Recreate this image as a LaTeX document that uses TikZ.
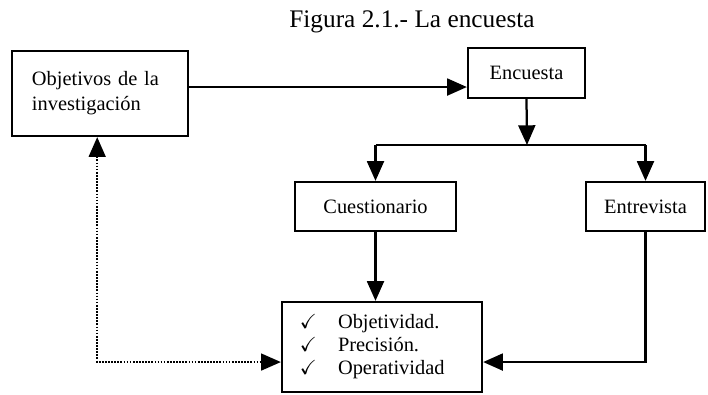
\documentclass[tikz,border=0pt]{standalone}
\usepackage{amssymb}
\usepackage{fontspec}
\setmainfont{Liberation Serif}
\usetikzlibrary{arrows.meta}
\usetikzlibrary{positioning}

\begin{document}
\begin{tikzpicture}[x=0.025cm, y=-0.025cm,
        caja/.style={draw, black, line width=1.6pt, font=\fontsize{14.5}{17.8}\selectfont},
        flecha/.style={-{Triangle[length=14pt,width=12pt]}, line width=1.6pt},
        punteada/.style={{Triangle[length=14pt,width=12pt]}-{Triangle[length=14pt,width=12pt]}, line width=1.2pt, densely dotted}]
        \useasboundingbox (0,0) rectangle (708,394);
        \node (titulo) at (412,22) {\fontsize{18}{20}\selectfont Figura 2.1.- La encuesta};
        \node[caja, minimum height=2.125cm, text width=3.4cm, inner xsep=0.5cm, align=left] (obj) at (100,93.5) {Objetivos de la\\investigación};
        \node[caja, minimum width=2.925cm, minimum height=1.25cm] (enc) at (526.5,73) {Encuesta};
        \node[caja, minimum width=4.025cm, minimum height=1.225cm] (cue) at (375.5,206.5) {Cuestionario};
        \node[caja, minimum width=2.975cm, minimum height=1.225cm] (ent) at (645.5,206.5) {Entrevista};
        \node[caja, minimum height=2.25cm, text width=4.1cm, inner xsep=0.45cm, align=left,
              font=\fontsize{14.5}{16.5}\selectfont] (res) at (382,347)
              {\begin{tabular}{@{}l@{\hspace{15pt}}l@{}}
               $\checkmark$ & Objetividad.\\
               $\checkmark$ & Precisión.\\
               $\checkmark$ & Operatividad
               \end{tabular}};
        \coordinate (rama) at (527,145);
        \draw[flecha] ([yshift=4.6pt]obj.east) -- ([yshift=4.6pt]obj.east -| enc.west);
        \draw[flecha] (enc.south) -- (rama);
        \draw[line width=1.6pt] (rama -| cue.north) -- (rama -| ent.north);
        \draw[flecha] (rama -| cue.north) -- (cue.north);
        \draw[flecha] (rama -| ent.north) -- (ent.north);
        \draw[flecha] (cue.south) -- (cue.south |- res.north);
        \draw[flecha] (ent.south) |- ([yshift=-10.7pt]res.east);
        \draw[punteada] ([xshift=-2pt]obj.south) |- ([yshift=-10.7pt]res.west);
\end{tikzpicture}
\end{document}
